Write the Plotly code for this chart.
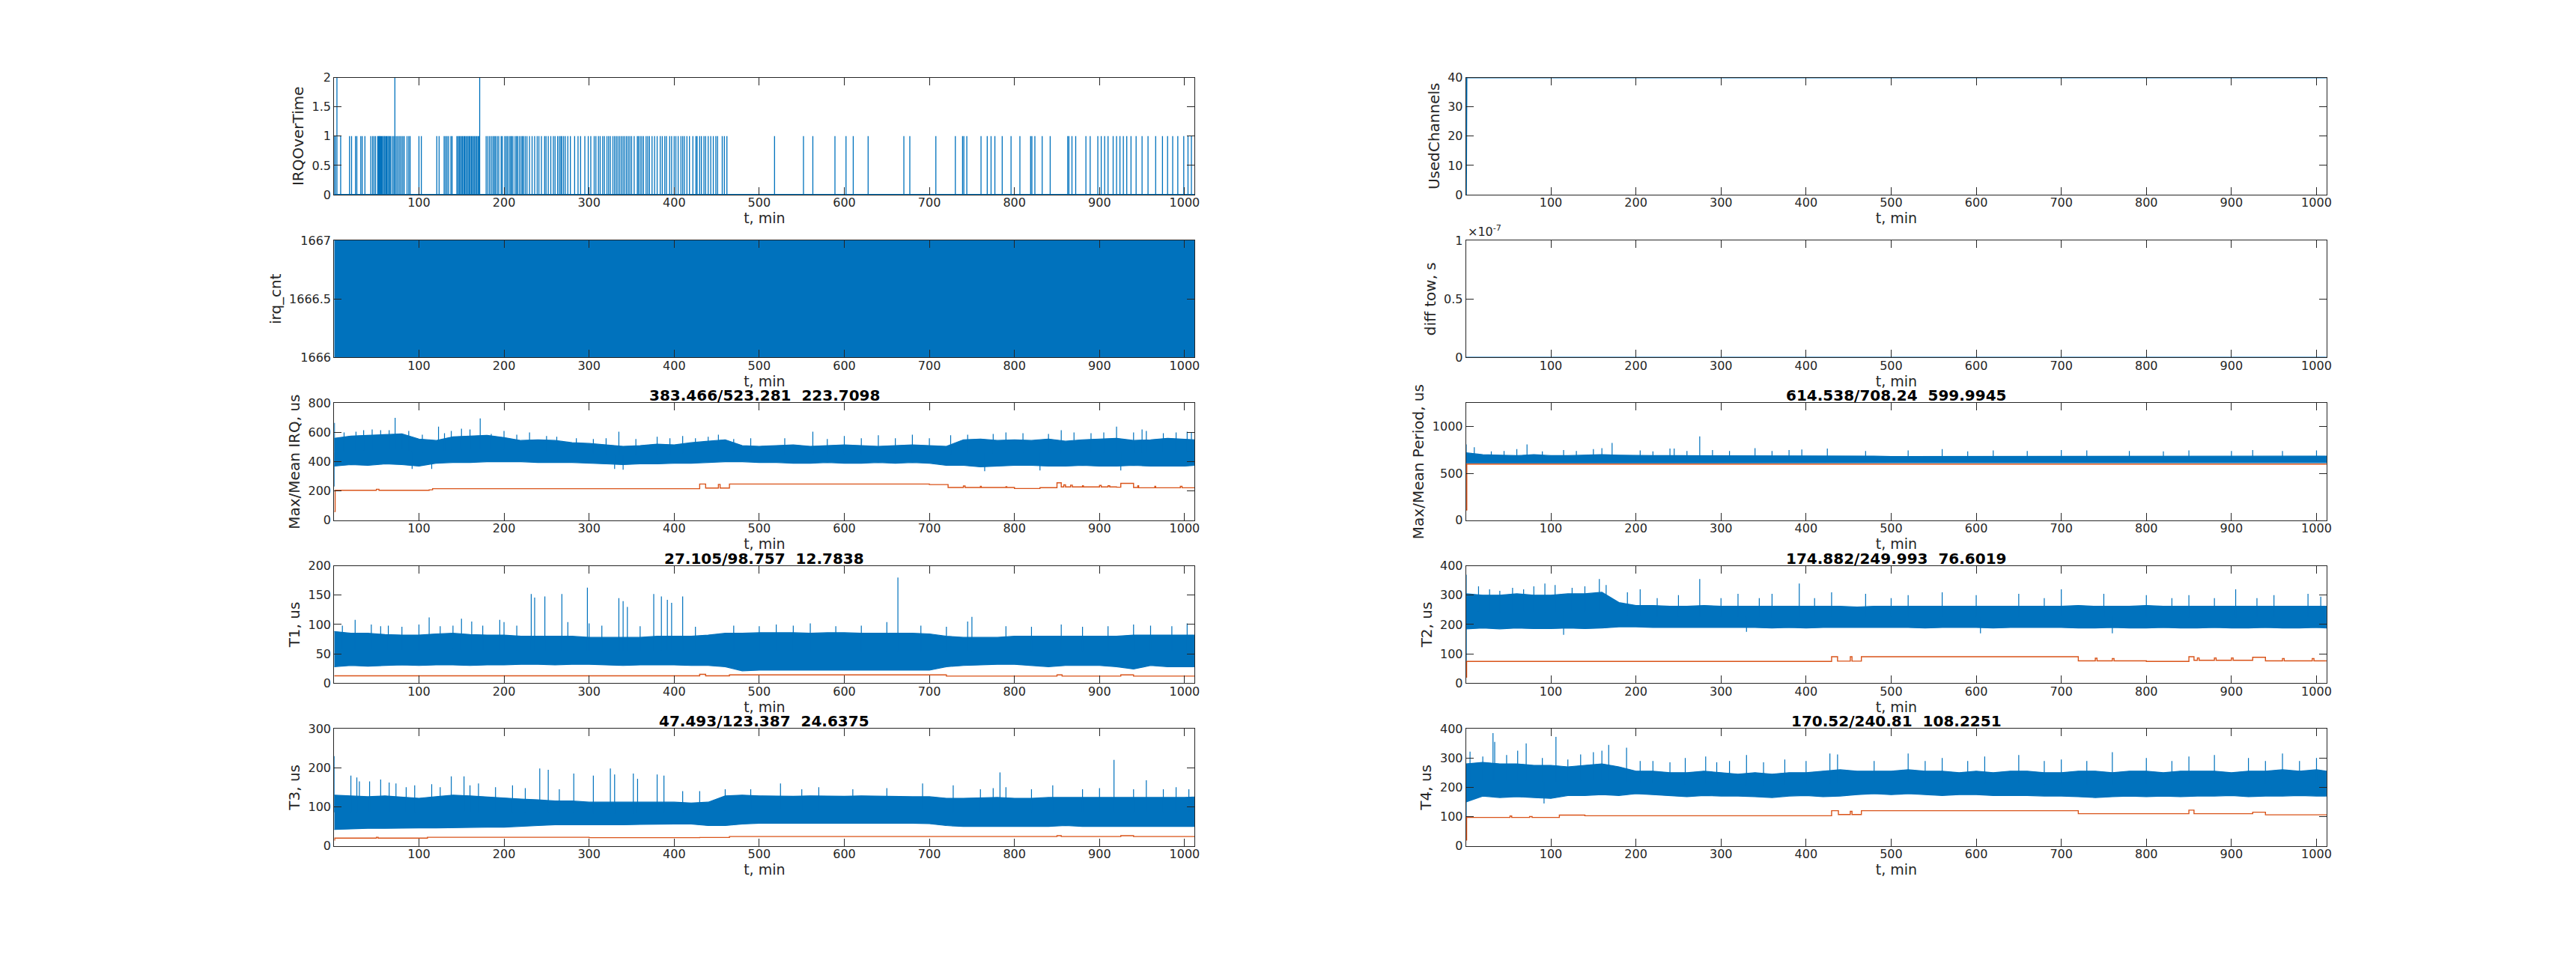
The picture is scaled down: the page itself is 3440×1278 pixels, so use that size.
import numpy as np
import plotly.graph_objects as go

BLUE = '#0072BD'
ORANGE = '#D95319'
AXC = '#262626'
FONT = 'DejaVu Sans'

# time axis (min)
t_span = [0.4, 1011.8]
x_ticks = [100, 200, 300, 400, 500, 600, 700, 800, 900, 1000]
# envelope sample grid, 20 min
t_env = [0.4] + list(range(20, 1001, 20)) + [1011.8]

# ---- IRQOverTime: times where value is 1, times where value is 2
irq_over_one = [0.8, 1.7, 8.0, 18.4, 20.8, 25.4, 27.0, 31.6, 33.3, 36.5, 43.4, 45.5, 47.2, 49.0,
                51.5, 52.5, 53.4, 54.2, 55.0, 56.1, 57.0, 58.3, 59.2, 60.0, 61.2, 62.3, 63.5, 64.4,
                65.6, 66.8, 68.8, 70.5, 72.2, 74.0, 75.7, 77.5, 79.2, 81.0, 82.7, 86.0, 88.0, 89.6,
                100.0, 102.8, 121.0, 123.7, 129.6, 131.3, 133.0, 134.8, 137.5, 139.0, 144.5, 146.0,
                147.3, 148.5, 150.0, 151.2, 152.6, 153.8, 155.0, 156.4, 157.7, 159.0, 160.2, 161.5,
                162.8, 164.0, 165.4, 166.6, 168.0, 169.3, 170.5, 179.0, 181, 183, 185, 187, 188.6,
                190.0, 192, 193.8, 196.6, 198, 200.8, 202.5, 204, 206, 207.7, 209, 210.5, 213.0,
                214.7, 216, 218.0, 220.0, 221.6, 223, 225.0, 227, 230.0, 233, 236.0, 239.0, 241,
                244.0, 247.7, 249.4, 252, 255, 258, 260, 263.0, 265.0, 266.8, 268, 270.0, 272,
                275.0, 278, 283, 287, 290, 295, 299, 302, 306, 308, 311, 313, 316, 318, 321, 323,
                325, 328, 330, 332, 334, 336, 338, 340, 342, 344, 346, 348, 350, 353, 356.7, 358,
                360, 362, 364, 367, 369, 371, 374, 377, 380, 383.6, 386, 389, 391, 394.7, 397, 400,
                402, 404.7, 408, 410, 412, 415, 418, 422, 425.6, 427, 430, 432, 435, 437, 440, 443,
                446, 449, 451, 456.5, 459, 462, 518, 552, 563, 589, 602, 610.5, 628, 670, 677,
                707.6, 730.5, 739, 740.5, 744, 760.7, 768, 772.5, 777, 785.6, 796, 806.4, 819,
                820.5, 824, 832.6, 842, 862.6, 864, 867.6, 872, 884, 889, 898, 902, 906, 910, 916,
                920, 924, 928, 932, 937, 943, 950, 957, 966, 974, 980, 986, 992, 999, 1004, 1008]
irq_over_two = [3.6, 71.7, 171.4]

# ---- irq_cnt alternates between two levels
irq_cnt_levels = [1666, 1667]

# ---- UsedChannels
used_t = [0.4, 1.0, 1011.8]
used_v = [0, 40, 40]

# ---- diff tow, s
tow_t = [0.4, 1011.8]
tow_v = [0.0, 0.0]

# ---- Max/Mean IRQ, us
irq_hi = [560, 575, 580, 585, 590, 555, 545, 570, 575, 580, 565, 545, 550, 545, 530, 525, 515,
          505, 510, 520, 515, 530, 540, 550, 510, 505, 510, 515, 505, 510, 515, 510, 505, 510,
          515, 510, 505, 550, 555, 545, 550, 545, 555, 540, 550, 555, 560, 545, 550, 560, 555, 550]
irq_lo = [370, 380, 375, 385, 380, 370, 390, 395, 395, 400, 400, 400, 395, 395, 395, 390, 385,
          380, 385, 385, 390, 390, 395, 400, 400, 395, 395, 390, 390, 395, 390, 390, 395, 390,
          395, 390, 375, 375, 365, 370, 375, 375, 370, 370, 375, 370, 370, 375, 370, 370, 370, 375]
irq_spk_t = [0.5, 0.7, 12, 26, 35, 45, 55, 65, 72, 80, 88, 92, 104, 115, 123, 130, 138, 150, 160,
             172, 185, 200, 215, 230, 250, 262, 285, 305, 320, 330, 335, 340, 355, 380, 395, 410,
             425, 440, 452, 470, 490, 530, 563, 580, 600, 620, 640, 660, 680, 700, 725, 745, 765,
             775, 790, 810, 830, 840, 855, 870, 890, 905, 920, 925, 940, 950, 955, 975, 990, 1003,
             1008]
irq_spk_v = [230, 665, 600, 605, 615, 620, 615, 615, 700, 590, 610, 350, 585, 350, 640, 595, 610,
             625, 620, 695, 590, 610, 585, 600, 575, 570, 560, 555, 560, 350, 605, 345, 555, 570,
             560, 575, 560, 570, 585, 555, 560, 560, 605, 555, 575, 560, 580, 560, 585, 560, 580,
             585, 335, 590, 600, 595, 340, 590, 615, 600, 595, 600, 640, 340, 600, 620, 610, 595,
             600, 605, 600]
irq_mean_t = [0.4, 1.5, 50, 53, 112, 116, 430, 437, 452, 454, 465, 700, 722, 740, 742, 760, 761,
              790, 791, 800, 830, 850, 855, 858, 860, 866, 868, 880, 881, 900, 902, 910, 912, 920,
              925, 940, 945, 946, 965, 966, 995, 997, 1011.8]
irq_mean_v = [60, 205, 212, 205, 208, 216, 248, 220, 245, 220, 248, 244, 224, 234, 224, 232, 224,
              230, 224, 217, 223, 256, 228, 242, 228, 240, 228, 236, 228, 238, 228, 236, 228, 226,
              252, 224, 236, 222, 232, 222, 232, 222, 222]

# ---- Max/Mean Period, us
per_hi = [720, 700, 695, 690, 700, 690, 690, 695, 700, 695, 690, 690, 690, 690, 690, 690, 685,
          690, 690, 690, 690, 685, 690, 685, 685, 680, 680, 685, 680, 680, 685, 680, 680, 685,
          680, 680, 680, 685, 680, 680, 680, 685, 680, 680, 685, 680, 680, 685, 680, 685, 680, 685]
per_lo = [612, 614, 615, 614, 615, 615, 614, 615, 616, 615, 615, 614, 615, 615, 616, 615, 615,
          614, 615, 615, 615, 614, 615, 615, 615, 614, 615, 615, 616, 615, 615, 614, 615, 615,
          615, 614, 615, 615, 615, 614, 615, 615, 616, 615, 615, 614, 615, 615, 615, 614, 615, 615]
per_spk_t = [0.5, 10, 30, 45, 60, 72, 90, 115, 130, 150, 160, 172, 205, 220, 240, 245, 260, 275,
             290, 310, 340, 360, 380, 395, 425, 470, 520, 560, 590, 620, 660, 700, 730, 780, 820,
             850, 900, 925, 960, 1000]
per_spk_v = [810, 780, 735, 740, 760, 810, 735, 750, 740, 760, 770, 825, 745, 735, 765, 765, 740,
             895, 750, 740, 770, 740, 750, 755, 765, 740, 745, 760, 735, 745, 740, 750, 745, 740,
             735, 745, 740, 750, 740, 745]
per_mean_t = [0.4, 1.2, 1011.8]
per_mean_v = [110, 600, 600]

# ---- T1, us
t1_hi = [88, 85, 85, 83, 82, 82, 84, 85, 83, 82, 82, 80, 80, 80, 80, 78, 78, 78, 78, 80, 80, 80,
         82, 85, 85, 86, 86, 86, 85, 86, 86, 85, 85, 85, 85, 84, 80, 78, 78, 78, 80, 80, 80, 80,
         80, 80, 80, 82, 82, 82, 82, 82]
t1_lo = [28, 30, 29, 30, 31, 30, 31, 31, 30, 31, 31, 32, 32, 31, 32, 32, 31, 30, 31, 31, 31, 30,
         30, 28, 21, 22, 22, 22, 22, 22, 22, 22, 22, 22, 22, 22, 28, 30, 31, 32, 32, 30, 28, 30,
         30, 30, 28, 24, 30, 28, 28, 28]
t1_spk_t = [10, 25, 44, 55, 64, 80, 100, 112, 125, 140, 150, 162, 175, 195, 200, 215, 232, 236,
            248, 268, 275, 298, 300, 315, 335, 340, 345, 360, 376, 385, 392, 397, 410, 425, 470,
            500, 520, 540, 560, 590, 620, 650, 663, 690, 720, 745, 750, 790, 820, 855, 880, 910,
            940, 960, 985, 1003]
t1_spk_v = [98, 108, 100, 97, 98, 96, 100, 112, 97, 98, 110, 105, 98, 108, 104, 98, 152, 146,
            148, 152, 104, 163, 102, 98, 145, 140, 130, 97, 152, 148, 142, 137, 148, 96, 98, 97,
            100, 98, 102, 97, 98, 104, 180, 98, 96, 105, 113, 97, 96, 100, 96, 97, 100, 98, 97, 102]
t1_mean_t = [0.4, 430, 437, 465, 720, 850, 856, 925, 940, 1011.8]
t1_mean_v = [12.5, 15, 12.5, 14, 12, 14, 12, 14, 12, 12]

# ---- T2, us
t2_hi = [305, 300, 300, 305, 300, 300, 305, 305, 310, 275, 265, 265, 262, 262, 265, 262, 262,
         262, 262, 262, 262, 262, 262, 260, 262, 262, 262, 262, 262, 262, 262, 262, 262, 262,
         262, 262, 265, 262, 262, 262, 265, 262, 262, 262, 262, 262, 262, 262, 262, 262, 262, 262]
t2_lo = [185, 188, 185, 188, 186, 186, 188, 186, 188, 192, 192, 190, 190, 190, 190, 190, 190,
         190, 188, 190, 188, 190, 190, 190, 190, 190, 190, 188, 190, 190, 190, 188, 190, 190,
         190, 190, 188, 188, 190, 188, 188, 190, 188, 188, 190, 188, 188, 190, 188, 188, 190, 188]
t2_spk_t = [0.5, 0.6, 15, 28, 40, 55, 68, 80, 93, 105, 115, 125, 140, 157, 165, 190, 205, 225,
            250, 275, 300, 320, 330, 345, 360, 392, 410, 430, 470, 500, 520, 560, 600, 605, 650,
            680, 700, 750, 760, 800, 830, 850, 880, 905, 930, 950, 990, 1005]
t2_spk_v = [370, 70, 330, 320, 315, 325, 320, 330, 340, 335, 165, 325, 330, 355, 335, 310, 320,
            290, 300, 355, 290, 305, 175, 290, 305, 340, 290, 310, 305, 290, 300, 310, 300, 170,
            305, 290, 320, 305, 170, 300, 290, 300, 290, 320, 290, 300, 305, 295]
t2_mean_t = [0.4, 1, 430, 437, 452, 454, 465, 720, 740, 742, 760, 762, 800, 850, 856, 860, 862,
             880, 882, 900, 902, 925, 940, 960, 962, 995, 997, 1011.8]
t2_mean_v = [20, 74, 90, 75, 90, 75, 90, 76, 85, 76, 84, 76, 74, 90, 78, 86, 78, 86, 78, 86, 78,
             88, 76, 84, 76, 84, 76, 76]

# ---- T3, us
t3_hi = [130, 128, 126, 128, 125, 122, 126, 130, 128, 125, 122, 120, 118, 115, 115, 112, 112, 112,
         112, 113, 112, 110, 112, 128, 130, 128, 127, 127, 128, 127, 127, 128, 127, 127, 126, 126,
         122, 122, 123, 124, 122, 122, 124, 124, 123, 124, 124, 124, 123, 124, 124, 125]
t3_lo = [42, 44, 45, 45, 45, 46, 46, 47, 47, 48, 48, 50, 52, 54, 54, 53, 54, 54, 55, 56, 56, 56,
         52, 52, 56, 58, 58, 58, 58, 58, 58, 58, 58, 58, 58, 57, 52, 50, 50, 50, 50, 50, 50, 52,
         50, 50, 50, 50, 50, 50, 50, 50]
t3_spk_t = [0.5, 20, 27, 30, 42, 55, 65, 73, 85, 95, 115, 125, 138, 153, 160, 170, 190, 210, 225,
            242, 252, 265, 282, 305, 325, 330, 352, 357, 380, 388, 410, 430, 460, 490, 525, 550,
            570, 610, 650, 692, 728, 760, 775, 783, 790, 820, 845, 880, 900, 917, 940, 955, 975,
            990, 1005]
t3_spk_v = [230, 180, 175, 165, 165, 170, 162, 160, 150, 155, 158, 150, 178, 178, 155, 160, 150,
            155, 148, 198, 195, 145, 185, 180, 198, 183, 185, 172, 183, 180, 140, 140, 145, 145,
            160, 145, 150, 145, 148, 160, 155, 145, 148, 188, 150, 145, 155, 145, 148, 220, 145,
            168, 145, 150, 145]
t3_mean_t = [0.4, 1, 50, 52, 110, 300, 430, 465, 850, 855, 925, 940, 1011.8]
t3_mean_v = [15, 20, 22, 20, 22, 21, 21.5, 24, 26, 24, 26, 24, 24]

# ---- T4, us
t4_hi = [280, 285, 280, 280, 275, 275, 270, 275, 280, 270, 255, 255, 250, 250, 255, 250, 245,
         250, 245, 250, 250, 255, 260, 255, 255, 255, 260, 255, 255, 250, 255, 250, 255, 255,
         250, 250, 255, 255, 250, 255, 255, 250, 255, 255, 255, 250, 255, 255, 260, 255, 260, 255]
t4_lo = [150, 170, 165, 168, 165, 162, 172, 172, 175, 172, 178, 175, 172, 168, 172, 170, 170,
         168, 165, 170, 172, 168, 170, 175, 178, 175, 178, 175, 172, 175, 175, 172, 172, 172,
         170, 170, 168, 165, 168, 170, 168, 170, 168, 170, 170, 172, 168, 170, 170, 172, 170, 170]
t4_spk_t = [0.5, 5, 20, 32, 34, 48, 61, 71, 90, 92, 106, 120, 135, 150, 160, 168, 189, 205, 220,
            240, 258, 282, 295, 310, 330, 350, 375, 400, 428, 437, 480, 520, 540, 560, 590, 610,
            650, 680, 700, 730, 760, 800, 830, 850, 880, 920, 940, 960, 980, 1000]
t4_spk_v = [90, 322, 305, 385, 355, 310, 325, 350, 300, 145, 372, 295, 312, 320, 325, 345, 335,
            290, 290, 285, 300, 305, 285, 290, 310, 285, 295, 290, 315, 312, 290, 315, 290, 300,
            290, 305, 310, 290, 295, 290, 320, 300, 290, 305, 310, 300, 290, 315, 290, 300]
t4_mean_t = [0.4, 1, 52, 54, 75, 78, 110, 140, 430, 438, 452, 454, 465, 720, 850, 856, 925, 940,
             1011.8]
t4_mean_v = [20, 97, 102, 97, 100, 97, 105, 103, 120, 107, 118, 107, 120, 110, 122, 110, 115,
             106, 104]

titles = {
    5: '383.466/523.281  223.7098',
    6: '614.538/708.24  599.9945',
    7: '27.105/98.757  12.7838',
    8: '174.882/249.993  76.6019',
    9: '47.493/123.387  24.6375',
    10: '170.52/240.81  108.2251',
}
ylabels = {1: 'IRQOverTime', 2: 'UsedChannels', 3: 'irq_cnt', 4: 'diff tow, s',
           5: 'Max/Mean IRQ, us', 6: 'Max/Mean Period, us', 7: 'T1, us', 8: 'T2, us',
           9: 'T3, us', 10: 'T4, us'}

# MATLAB subplot(5,2,k) geometry, corrected for the 8px page margin
dx = 8 / 3440
dy = 8 / 1278
col_x = [(0.13 - dx, 0.4647 - dx), (0.5703 - dx, 0.905 - dx)]
row_h = 0.12432
row_step = 0.17267


def band(fig, k, hi, lo):
    fig.add_trace(go.Scatter(x=t_env + t_env[::-1], y=hi + lo[::-1], fill='toself',
                             fillcolor=BLUE, mode='lines', line=dict(color=BLUE, width=1.2),
                             xaxis=f'x{k}', yaxis=f'y{k}', hoverinfo='skip'))


def spikes(fig, k, ts, vs, base, color=BLUE, width=1.2):
    xs, ys = [], []
    for t, v in zip(ts, vs):
        b = float(np.interp(t, t_env, base))
        xs += [t, t, None]
        ys += [b, v, None]
    fig.add_trace(go.Scatter(x=xs, y=ys, mode='lines', line=dict(color=color, width=width),
                             xaxis=f'x{k}', yaxis=f'y{k}', hoverinfo='skip'))


def step(fig, k, ts, vs, color=ORANGE):
    fig.add_trace(go.Scatter(x=ts, y=vs, mode='lines', line=dict(color=color, width=1.4, shape='hv'),
                             xaxis=f'x{k}', yaxis=f'y{k}', hoverinfo='skip'))


fig = go.Figure()

# 1: IRQOverTime
xs, ys = [], []
for t in irq_over_one:
    xs += [t, t, None]
    ys += [0, 1, None]
for t in irq_over_two:
    xs += [t, t, None]
    ys += [0, 2, None]
fig.add_trace(go.Scatter(x=t_span, y=[0, 0], mode='lines', line=dict(color=BLUE, width=2),
                         xaxis='x1', yaxis='y1'))
fig.add_trace(go.Scatter(x=xs, y=ys, mode='lines', line=dict(color=BLUE, width=1.3),
                         xaxis='x1', yaxis='y1'))

# 2: UsedChannels
fig.add_trace(go.Scatter(x=used_t, y=used_v, mode='lines', line=dict(color=BLUE, width=2),
                         xaxis='x2', yaxis='y2'))

# 3: irq_cnt
fig.add_trace(go.Scatter(x=[t_span[0], t_span[1], t_span[1], t_span[0]],
                         y=[irq_cnt_levels[0], irq_cnt_levels[0], irq_cnt_levels[1], irq_cnt_levels[1]],
                         fill='toself', fillcolor=BLUE, mode='lines', line=dict(color=BLUE, width=1),
                         xaxis='x3', yaxis='y3'))

# 4: diff tow
fig.add_trace(go.Scatter(x=tow_t, y=tow_v, mode='lines', line=dict(color=BLUE, width=2),
                         xaxis='x4', yaxis='y4'))

# 5..10: max (blue) and mean (orange)
series = {
    5: (irq_hi, irq_lo, irq_spk_t, irq_spk_v, irq_mean_t, irq_mean_v),
    6: (per_hi, per_lo, per_spk_t, per_spk_v, per_mean_t, per_mean_v),
    7: (t1_hi, t1_lo, t1_spk_t, t1_spk_v, t1_mean_t, t1_mean_v),
    8: (t2_hi, t2_lo, t2_spk_t, t2_spk_v, t2_mean_t, t2_mean_v),
    9: (t3_hi, t3_lo, t3_spk_t, t3_spk_v, t3_mean_t, t3_mean_v),
    10: (t4_hi, t4_lo, t4_spk_t, t4_spk_v, t4_mean_t, t4_mean_v),
}
for k, (hi, lo, st, sv, mt, mv) in series.items():
    band(fig, k, hi, lo)
    mid = [(a + b) / 2 for a, b in zip(hi, lo)]
    spikes(fig, k, st, sv, mid)
    step(fig, k, mt, mv)

yset = {
    1: dict(range=[0, 2], tickvals=[0, 0.5, 1, 1.5, 2], ticktext=['0', '0.5', '1', '1.5', '2']),
    2: dict(range=[0, 40], tickvals=[0, 10, 20, 30, 40]),
    3: dict(range=[1666, 1667], tickvals=[1666, 1666.5, 1667], ticktext=['1666', '1666.5', '1667']),
    4: dict(range=[0, 1e-7], tickvals=[0, 0.5e-7, 1e-7], ticktext=['0', '0.5', '1']),
    5: dict(range=[0, 800], tickvals=[0, 200, 400, 600, 800]),
    6: dict(range=[0, 1250], tickvals=[0, 500, 1000], ticktext=['0', '500', '1000']),
    7: dict(range=[0, 200], tickvals=[0, 50, 100, 150, 200]),
    8: dict(range=[0, 400], tickvals=[0, 100, 200, 300, 400]),
    9: dict(range=[0, 300], tickvals=[0, 100, 200, 300]),
    10: dict(range=[0, 400], tickvals=[0, 100, 200, 300, 400]),
}

layout = dict(width=3440, height=1278, margin=dict(l=0, r=0, t=0, b=0),
              paper_bgcolor='white', plot_bgcolor='white', showlegend=False,
              font=dict(family=FONT, color=AXC, size=15))
annotations = []
for k in range(1, 11):
    row = (k - 1) // 2
    col = (k - 1) % 2
    y0 = 0.11 + (4 - row) * row_step + dy
    y1 = y0 + row_h
    x0, x1 = col_x[col]
    common = dict(showline=True, linecolor=AXC, linewidth=1.2, mirror='ticks', ticks='inside',
                  ticklen=10, tickcolor=AXC, tickwidth=1.2, showgrid=False, zeroline=False,
                  tickfont=dict(family=FONT, size=16, color=AXC))
    layout[f'xaxis{k}'] = dict(domain=[x0, x1], anchor=f'y{k}', range=t_span, tickvals=x_ticks,
                               ticktext=[str(v) for v in x_ticks], ticklabelstandoff=-4,
                               title=dict(text='t, min', font=dict(family=FONT, size=19, color=AXC),
                                          standoff=0),
                               **common)
    yax = dict(domain=[y0, y1], anchor=f'x{k}',
               title=dict(text=ylabels[k], font=dict(family=FONT, size=20, color=AXC), standoff=5),
               **common)
    yax.update(yset[k])
    layout[f'yaxis{k}'] = yax
    if k in titles:
        annotations.append(dict(text='<b>' + titles[k] + '</b>', x=(x0 + x1) / 2, y=y1,
                                xref='paper', yref='paper', xanchor='center', yanchor='bottom',
                                yshift=-4, showarrow=False,
                                font=dict(family=FONT, size=20, color='black')))
    if k == 4:
        annotations.append(dict(text='\u00d710<sup>-7</sup>', x=x0, y=y1, xref='paper',
                                yref='paper', xanchor='left', yanchor='bottom', showarrow=False,
                                font=dict(family=FONT, size=16, color=AXC)))
layout['annotations'] = annotations
fig.update_layout(**layout)

fig.write_html("out.html")
